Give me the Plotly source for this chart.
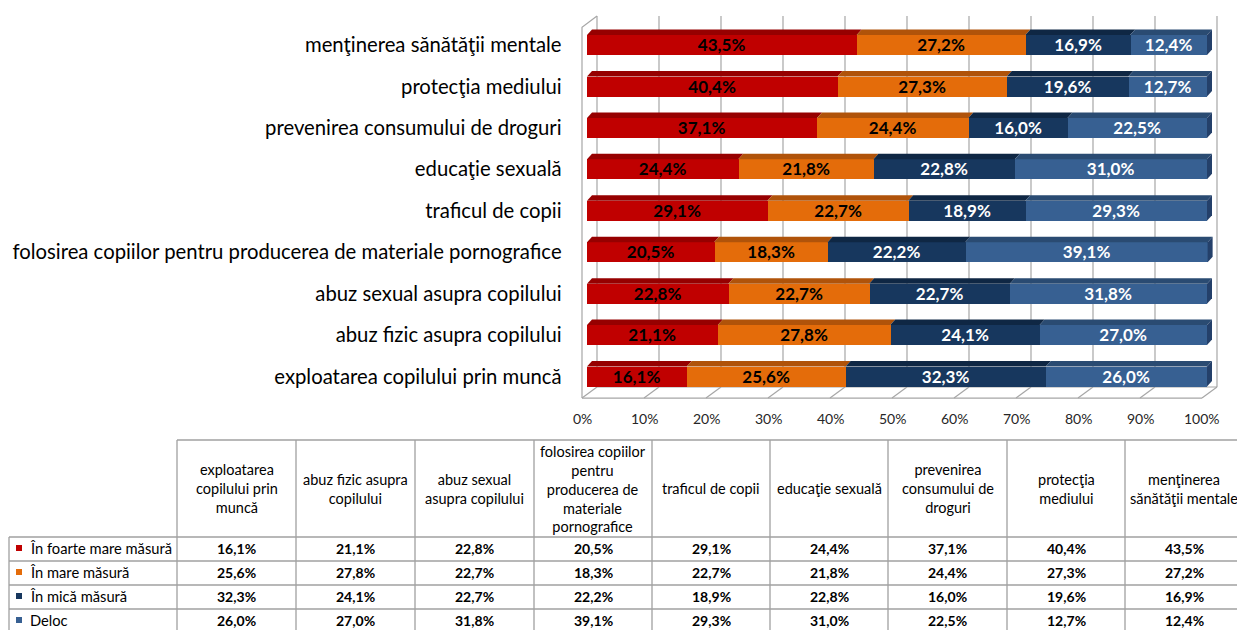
import plotly.graph_objects as go

W, H = 1237, 630

categories = [
    "exploatarea copilului prin muncă",
    "abuz fizic asupra copilului",
    "abuz sexual asupra copilului",
    "folosirea copiilor pentru producerea de materiale pornografice",
    "traficul de copii",
    "educaţie sexuală",
    "prevenirea consumului de droguri",
    "protecţia mediului",
    "menţinerea sănătăţii mentale",
]
table_headers = [
    "exploatarea<br>copilului prin<br>muncă",
    "abuz fizic asupra<br>copilului",
    "abuz sexual<br>asupra copilului",
    "folosirea copiilor<br>pentru<br>producerea de<br>materiale<br>pornografice",
    "traficul de copii",
    "educaţie sexuală",
    "prevenirea<br>consumului de<br>droguri",
    "protecţia<br>mediului",
    "menţinerea<br>sănătăţii mentale",
]
series_names = ["În foarte mare măsură", "În mare măsură", "În mică măsură", "Deloc"]
foarte_mare = [16.1, 21.1, 22.8, 20.5, 29.1, 24.4, 37.1, 40.4, 43.5]
mare = [25.6, 27.8, 22.7, 18.3, 22.7, 21.8, 24.4, 27.3, 27.2]
mica = [32.3, 24.1, 22.7, 22.2, 18.9, 22.8, 16.0, 19.6, 16.9]
deloc = [26.0, 27.0, 31.8, 39.1, 29.3, 31.0, 22.5, 12.7, 12.4]
x_ticks = [0, 10, 20, 30, 40, 50, 60, 70, 80, 90, 100]

series = [foarte_mare, mare, mica, deloc]
front_colors = ["#C00000", "#E46C0A", "#17375E", "#376092"]
top_colors = ["#960000", "#B0530A", "#0F2744", "#2A4B72"]
side_colors = ["#8A0000", "#A04B08", "#0D2240", "#24406A"]
text_colors = ["#000000", "#000000", "#FFFFFF", "#FFFFFF"]

FONT = "Lato"

def fmt(v):
    return f"{v:.1f}".replace(".", ",") + "%"

# pixel geometry helpers
PX_X = 6.2      # px per percent
PX_Y = 41.44    # px per category unit
def dx(p): return p / PX_X
def dy(p): return p / PX_Y

BAR_H = 0.483
yvals = list(range(len(categories)))

fig = go.Figure()
for s, vals in enumerate(series):
    fig.add_trace(go.Bar(
        y=yvals, x=vals, orientation="h", name=series_names[s],
        marker=dict(color=front_colors[s], line=dict(width=0)),
        width=BAR_H,
        text=[fmt(v) for v in vals], textposition="inside",
        insidetextanchor="middle", constraintext="none",
        textfont=dict(family=FONT, size=17, color=text_colors[s], weight="bold"),
        showlegend=False, hoverinfo="skip",
    ))

shapes = []
annotations = []
GRID = "#A6A6A6"

# 3D frame: floor front / back, walls
fx_front, fy_front = dx(-5), -0.519
fx_back, fy_back = dx(10), -0.253
y_top_back = 8.70
y_top_front = 8.43
for t in x_ticks:
    shapes.append(dict(type="line", xref="x", yref="y", layer="below",
                       x0=t + fx_back, x1=t + fx_back, y0=fy_back, y1=y_top_back,
                       line=dict(color=GRID, width=1.2)))
    shapes.append(dict(type="line", xref="x", yref="y", layer="below",
                       x0=t + fx_front, x1=t + fx_back, y0=fy_front, y1=fy_back,
                       line=dict(color=GRID, width=1.2)))
    annotations.append(dict(xref="x", yref="paper", x=t + fx_front, y=1 - 418 / H,
                            text=f"{t}%", showarrow=False, xanchor="center", yanchor="middle",
                            font=dict(family=FONT, size=14, color="#262626")))
shapes.append(dict(type="line", xref="x", yref="y", layer="below",
                   x0=fx_front, x1=100 + fx_front, y0=fy_front, y1=fy_front,
                   line=dict(color=GRID, width=1.2)))
shapes.append(dict(type="line", xref="x", yref="y", layer="below",
                   x0=fx_back, x1=100 + fx_back, y0=fy_back, y1=fy_back,
                   line=dict(color=GRID, width=1.2)))
shapes.append(dict(type="path", xref="x", yref="y", layer="below",
                   path=f"M {fx_front} {fy_front} L {fx_front} {y_top_front} L {fx_back} {y_top_back}",
                   line=dict(color=GRID, width=1.2)))

# bar 3D faces
dxb, dyb = dx(5), dy(5.5)
for i in yvals:
    left = 0.0
    for s, vals in enumerate(series):
        right = left + vals[i]
        yt = i + BAR_H / 2
        shapes.append(dict(type="path", xref="x", yref="y", layer="above",
                           path=f"M {left} {yt} L {right} {yt} L {right + dxb} {yt + dyb} L {left + dxb} {yt + dyb} Z",
                           fillcolor=top_colors[s], line=dict(width=0)))
        left = right
    yb = i - BAR_H / 2
    shapes.append(dict(type="path", xref="x", yref="y", layer="above",
                       path=f"M {left} {yb} L {left} {yt} L {left + dxb} {yt + dyb} L {left + dxb} {yb + dyb} Z",
                       fillcolor=side_colors[3], line=dict(width=0)))

# ---- data table (paper coordinates from pixels) ----
def px(x): return x / W
def py(y): return 1 - y / H

TBL = "#A0A0A0"
col_edges = [177, 296, 415, 534, 652, 770, 888, 1007, 1125, 1245]
row_edges = [537, 561, 585, 609, 633]
head_top = 440
label_left = 9

for xe in col_edges:
    shapes.append(dict(type="line", xref="paper", yref="paper",
                       x0=px(xe), x1=px(xe), y0=py(head_top), y1=py(row_edges[-1]),
                       line=dict(color=TBL, width=1.3)))
shapes.append(dict(type="line", xref="paper", yref="paper",
                   x0=px(col_edges[0]), x1=px(col_edges[-1]), y0=py(head_top), y1=py(head_top),
                   line=dict(color=TBL, width=1.3)))
for ye in row_edges:
    shapes.append(dict(type="line", xref="paper", yref="paper",
                       x0=px(label_left), x1=px(col_edges[-1]), y0=py(ye), y1=py(ye),
                       line=dict(color=TBL, width=1.3)))
shapes.append(dict(type="line", xref="paper", yref="paper",
                   x0=px(label_left), x1=px(label_left), y0=py(row_edges[0]), y1=py(row_edges[-1]),
                   line=dict(color=TBL, width=1.3)))

for c, htxt in enumerate(table_headers):
    xc = (col_edges[c] + col_edges[c + 1]) / 2
    if c == len(table_headers) - 1:
        xc = (col_edges[c] + 1237) / 2 + 3
    annotations.append(dict(xref="paper", yref="paper", x=px(xc), y=py((head_top + row_edges[0]) / 2),
                            text=htxt, showarrow=False, xanchor="center", yanchor="middle",
                            align="center", font=dict(family=FONT, size=14.5, color="#000000")))

for s, vals in enumerate(series):
    yc = (row_edges[s] + row_edges[s + 1]) / 2 - 1
    shapes.append(dict(type="rect", xref="paper", yref="paper",
                       x0=px(16), x1=px(22), y0=py(yc - 3), y1=py(yc + 3),
                       fillcolor=front_colors[s], line=dict(width=0)))
    annotations.append(dict(xref="paper", yref="paper", x=px(28), y=py(yc),
                            text=series_names[s], showarrow=False, xanchor="left", yanchor="middle",
                            font=dict(family=FONT, size=14.7, color="#000000")))
    for c, v in enumerate(vals):
        xc = (col_edges[c] + col_edges[c + 1]) / 2
        if c == len(vals) - 1:
            xc = (col_edges[c] + 1237) / 2 + 3
        annotations.append(dict(xref="paper", yref="paper", x=px(xc), y=py(yc),
                                text=fmt(v), showarrow=False, xanchor="center", yanchor="middle",
                                font=dict(family=FONT, size=14, color="#000000", weight="bold")))

fig.update_layout(
    width=W, height=H,
    margin=dict(l=0, r=0, t=0, b=0),
    paper_bgcolor="white", plot_bgcolor="white",
    barmode="stack", bargap=0,
    uniformtext=dict(minsize=17, mode="show"),
    xaxis=dict(domain=[574.6 / W, 1225.6 / W], range=[-2, 103],
               showgrid=False, zeroline=False, showticklabels=False, showline=False,
               fixedrange=True),
    yaxis=dict(domain=[1 - 401.4 / H, 1 - 11.85 / H], range=[-0.6, 8.8],
               tickvals=yvals, ticktext=categories, showgrid=False, zeroline=False,
               showline=False, ticks="", ticklabelstandoff=12,
               tickfont=dict(family=FONT, size=20.3, color="#000000"), fixedrange=True),
    shapes=shapes, annotations=annotations,
    font=dict(family=FONT),
)

fig.write_html(
    "out.html",
    config={"displayModeBar": False},
    post_script="document.body.style.margin='0px';document.body.style.overflow='hidden';",
)
